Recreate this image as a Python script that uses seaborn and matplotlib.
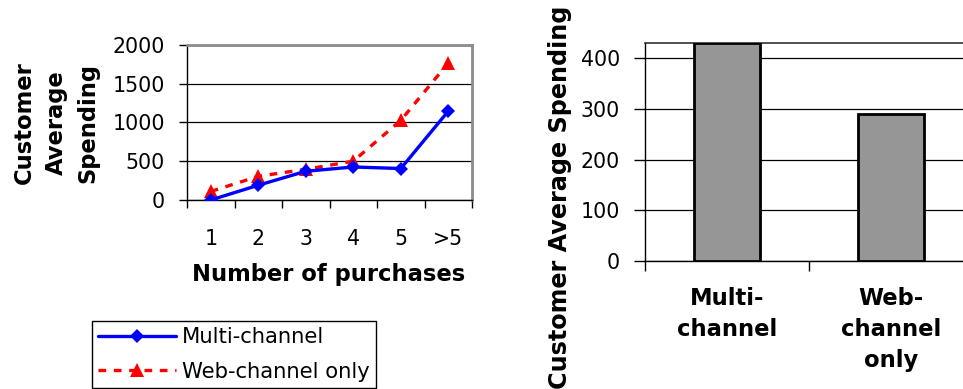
import matplotlib
matplotlib.use("Agg")
import matplotlib.pyplot as plt
import seaborn as sns
import pandas as pd
from matplotlib.ticker import FixedLocator

# Average spending by number of purchases
purchases = ["1", "2", "3", "4", "5", ">5"]
multi_channel = [0, 190, 370, 425, 405, 1145]
web_only = [110, 305, 395, 500, 1025, 1765]

# Average spending by channel type
channels = ["Multi-\nchannel", "Web-\nchannel\nonly"]
channel_spending = [430, 290]

sns.set_style("white")
plt.rcParams["font.family"] = ["DejaVu Sans"]
plt.rcParams.update({"text.color": "black", "axes.labelcolor": "black",
                     "xtick.color": "black", "ytick.color": "black"})

TICK_FS = 14.8
LABEL_FS = 16.3

fig = plt.figure(figsize=(9.63, 3.89), dpi=100)
ax1 = fig.add_axes([0.1942, 0.4859, 0.2960, 0.3992])
ax2 = fig.add_axes([0.6698, 0.3290, 0.3406, 0.5604])

# ---- left: line chart ----
line_df = pd.DataFrame({"purchases": purchases,
                        "Multi-channel": multi_channel,
                        "Web-channel only": web_only})

for ax in (ax1, ax2):
    ax.set_axisbelow(True)
    ax.grid(False)

sns.lineplot(data=line_df, x="purchases", y="Web-channel only", ax=ax1,
             sort=False, color="#FF0000", linewidth=2.4, linestyle=(0, (2.3, 2.3)),
             marker="^", markersize=10.5, markeredgewidth=0, label="Web-channel only",
             zorder=3, legend=False)
sns.lineplot(data=line_df, x="purchases", y="Multi-channel", ax=ax1,
             sort=False, color="#0000FF", linewidth=2.4, linestyle="-",
             marker="D", markersize=7.5, markeredgewidth=0, label="Multi-channel",
             zorder=4, legend=False)

ax1.set_xlim(-0.5, len(purchases) - 0.5)
ax1.set_ylim(0, 2000)
ax1.set_yticks([0, 500, 1000, 1500, 2000])
ax1.set_yticklabels(["0", "500", "1000", "1500", "2000"], fontsize=TICK_FS)
ax1.set_xticks(range(len(purchases)))
ax1.set_xticklabels(purchases, fontsize=TICK_FS)
ax1.xaxis.set_minor_locator(FixedLocator([i - 0.5 for i in range(len(purchases) + 1)]))
ax1.tick_params(axis="x", which="major", length=0, pad=21, bottom=True)
ax1.tick_params(axis="x", which="minor", length=6, width=1, color="black", bottom=True, direction="out")
ax1.tick_params(axis="y", which="major", length=6, width=1, color="black", left=True, pad=10, direction="out")
ax1.yaxis.grid(True, color="black", linewidth=0.9)
ax1.set_xlabel("")
ax1.set_ylabel("")
for side in ("top", "right"):
    ax1.spines[side].set_color("#8c8c8c")
    ax1.spines[side].set_linewidth(2.0)
for side in ("left", "bottom"):
    ax1.spines[side].set_color("black")
    ax1.spines[side].set_linewidth(1.0)

fig.text(329 / 963, 1 - 275 / 389, "Number of purchases", ha="center", va="center",
         fontsize=LABEL_FS, fontweight="bold")
fig.text(56 / 963, 1 - 123 / 389, "Customer\nAverage\nSpending", ha="center", va="center",
         rotation=90, multialignment="center", fontsize=LABEL_FS, fontweight="bold",
         linespacing=1.5)

handles, labels = ax1.get_legend_handles_labels()
order = [labels.index("Multi-channel"), labels.index("Web-channel only")]
leg = fig.legend([handles[i] for i in order], [labels[i] for i in order],
                 loc="upper left", bbox_to_anchor=(92 / 963, 1 - 321 / 389),
                 fontsize=15.2, frameon=True, fancybox=False, shadow=False,
                 handlelength=3.7, handletextpad=0.25, borderpad=0.3,
                 labelspacing=0.68, borderaxespad=0, numpoints=1)
leg.get_frame().set_edgecolor("black")
leg.get_frame().set_linewidth(1.0)
leg.get_frame().set_alpha(1)

# ---- right: bar chart ----
bar_df = pd.DataFrame({"channel": channels, "spending": channel_spending})
sns.barplot(data=bar_df, x="channel", y="spending", ax=ax2, color="#969696",
            saturation=1, width=0.405, edgecolor="black", linewidth=2.0, zorder=3)

ax2.set_xlim(-0.5, 1.5)
ax2.set_ylim(0, 430)
ax2.set_yticks([0, 100, 200, 300, 400])
ax2.set_yticklabels(["0", "100", "200", "300", "400"], fontsize=TICK_FS)
ax2.set_xticks([0, 1])
ax2.set_xticklabels(channels, fontsize=LABEL_FS, fontweight="bold", linespacing=1.42)
for lbl in ax2.get_xticklabels():
    lbl.set_multialignment("center")
ax2.xaxis.set_minor_locator(FixedLocator([-0.5, 0.5, 1.5]))
ax2.tick_params(axis="x", which="major", length=0, pad=19, bottom=True)
ax2.tick_params(axis="x", which="minor", length=7, width=1, color="black", bottom=True, direction="out")
ax2.tick_params(axis="y", which="major", length=8, width=1, color="black", left=True, pad=10, direction="out")
ax2.yaxis.grid(True, color="black", linewidth=0.9)
ax2.set_xlabel("")
ax2.set_ylabel("")
for side in ("top", "right"):
    ax2.spines[side].set_color("#333333")
    ax2.spines[side].set_linewidth(1.2)
for side in ("left", "bottom"):
    ax2.spines[side].set_color("black")
    ax2.spines[side].set_linewidth(1.0)

fig.text(560 / 963, 1 - 197 / 389, "Customer Average Spending", ha="center", va="center",
         rotation=90, fontsize=17.2, fontweight="bold")

fig.savefig("out.png", dpi=100, facecolor="white")
